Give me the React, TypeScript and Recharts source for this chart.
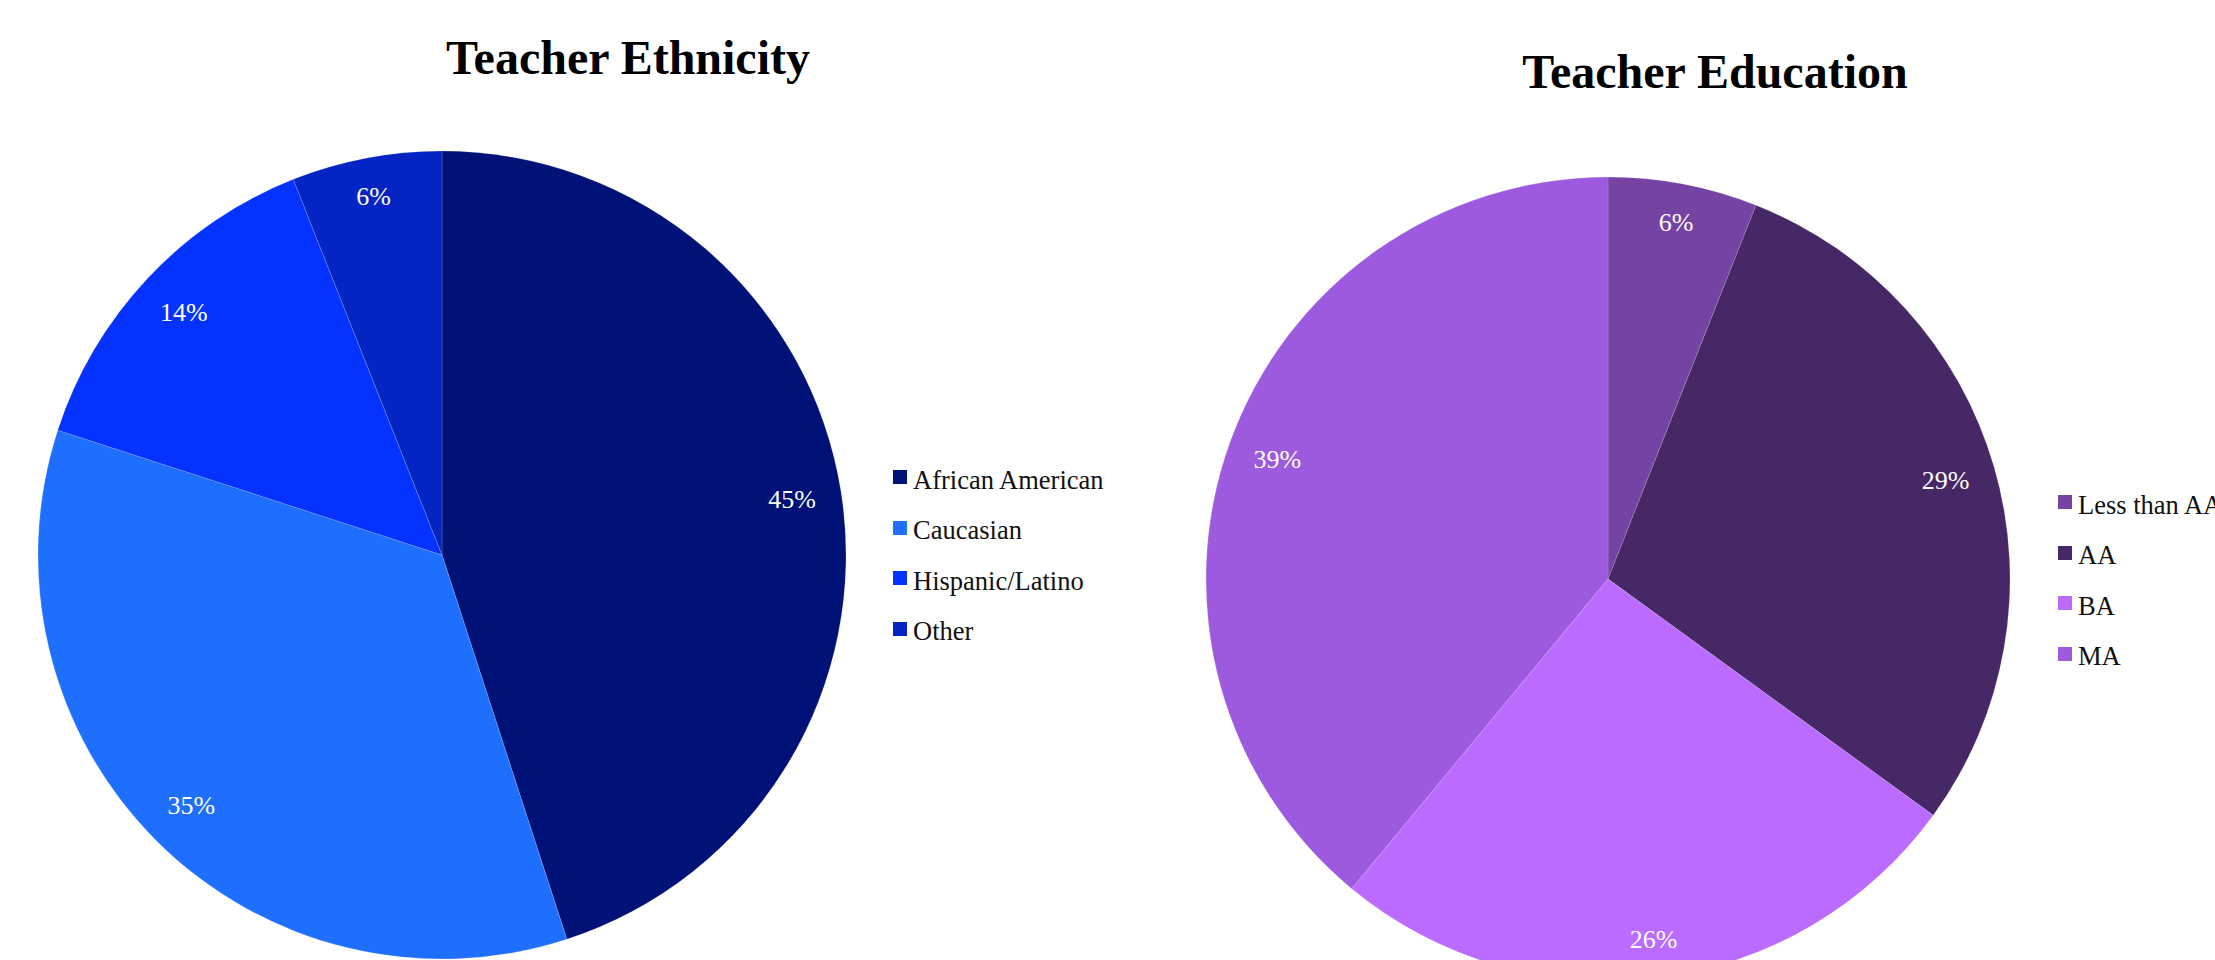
import React from "react";
import { PieChart, Pie, Cell } from "recharts";

const ethnicityNames = ["African American", "Caucasian", "Hispanic/Latino", "Other"];
const ethnicityValues = [45, 35, 14, 6];
const ethnicityColors = ["#001277", "#1F6FFF", "#0433FF", "#0424C4"];

const educationNames = ["Less than AA", "AA", "BA", "MA"];
const educationValues = [6, 29, 26, 39];
const educationColors = ["#7443A3", "#472866", "#BB6BFF", "#9D5ADE"];

const SERIF = "'Liberation Serif', 'Times New Roman', serif";
const RADIAN = Math.PI / 180;

const ethnicityData = ethnicityNames.map((name, i) => ({ name, value: ethnicityValues[i] }));
const educationData = educationNames.map((name, i) => ({ name, value: educationValues[i] }));

// label sits inside the rim, pulled in by its own half-size toward the centre
function renderLabel(props: any) {
  const { cx, cy, midAngle, outerRadius, value } = props;
  const text = `${value}%`;
  const halfW = (String(value).length * 13 + 21.7) / 2;
  const halfH = 12;
  const c = Math.cos(-midAngle * RADIAN);
  const s = Math.sin(-midAngle * RADIAN);
  const r = outerRadius * 0.94 - (Math.abs(c) * halfW + Math.abs(s) * halfH);
  const x = cx + r * c;
  const y = cy + r * s;
  return (
    <text
      x={x}
      y={y}
      fill="#ffffff"
      textAnchor="middle"
      dominantBaseline="central"
      style={{ fontFamily: SERIF, fontSize: 26 }}
    >
      {text}
    </text>
  );
}

function LegendBox({ names, colors, left, top }: { names: string[]; colors: string[]; left: number; top: number }) {
  return (
    <div style={{ position: "absolute", left, top }}>
      {names.map((n, i) => (
        <div
          key={n}
          style={{
            position: "absolute",
            top: i * 50.5,
            left: 0,
            display: "flex",
            alignItems: "center",
            whiteSpace: "nowrap",
            height: 30,
          }}
        >
          <div style={{ width: 14, height: 14, background: colors[i], marginRight: 6, marginTop: -6 }} />
          <span style={{ fontFamily: SERIF, fontSize: 26.5, color: "#111" }}>{n}</span>
        </div>
      ))}
    </div>
  );
}

export default function App() {
  return (
    <div
      style={{
        position: "absolute",
        left: 0,
        top: 0,
        width: 2215,
        height: 960,
        overflow: "hidden",
        background: "#ffffff",
      }}
    >
      <style>{`.recharts-pie-sectors { filter: drop-shadow(2px 3px 2px rgba(0,0,0,0.35)); }`}</style>
      <div
        style={{
          position: "absolute",
          left: 0,
          width: 1256,
          top: 30,
          textAlign: "center",
          fontFamily: SERIF,
          fontWeight: "bold",
          fontSize: 48,
          color: "#000",
        }}
      >
        Teacher Ethnicity
      </div>
      <div
        style={{
          position: "absolute",
          left: 1415,
          width: 600,
          top: 44,
          textAlign: "center",
          fontFamily: SERIF,
          fontWeight: "bold",
          fontSize: 48,
          color: "#000",
        }}
      >
        Teacher Education
      </div>
      <div style={{ position: "absolute", left: 0, top: 0 }}>
        <PieChart width={2215} height={1000} margin={{ top: 0, right: 0, bottom: 0, left: 0 }}>
          <Pie
            data={ethnicityData}
            dataKey="value"
            nameKey="name"
            cx={442}
            cy={555}
            outerRadius={404}
            startAngle={90}
            endAngle={-270}
            stroke="rgba(255,255,255,0.15)"
            strokeWidth={1}
            label={renderLabel}
            labelLine={false}
            isAnimationActive={false}
          >
            {ethnicityData.map((d, i) => (
              <Cell key={d.name} fill={ethnicityColors[i]} />
            ))}
          </Pie>
          <Pie
            data={educationData}
            dataKey="value"
            nameKey="name"
            cx={1608}
            cy={579}
            outerRadius={402}
            startAngle={90}
            endAngle={-270}
            stroke="rgba(255,255,255,0.15)"
            strokeWidth={1}
            label={renderLabel}
            labelLine={false}
            isAnimationActive={false}
          >
            {educationData.map((d, i) => (
              <Cell key={d.name} fill={educationColors[i]} />
            ))}
          </Pie>
        </PieChart>
      </div>
      <LegendBox names={ethnicityNames} colors={ethnicityColors} left={893} top={465} />
      <LegendBox names={educationNames} colors={educationColors} left={2058} top={490} />
    </div>
  );
}
